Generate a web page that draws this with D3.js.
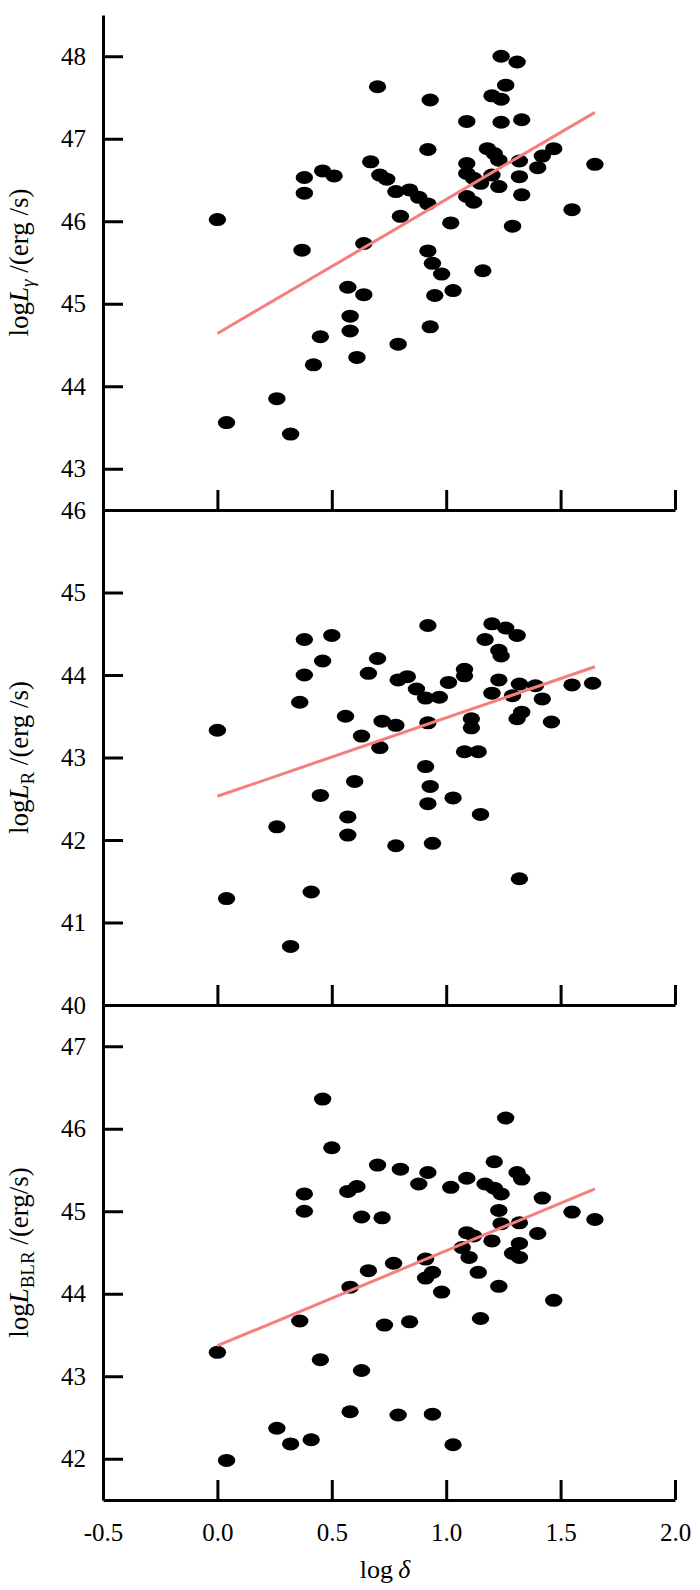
<html>
  <head>
    <meta charset="utf-8">
    <title>log delta vs luminosities</title>
    <style>
      body { margin: 0; background: white; }
      text { font-family: "Liberation Serif", "Times New Roman", serif; fill: black; }
    </style>
  </head>
  <body>
    <script type="text/javascript" src="https://d3js.org/d3.v7.min.js"></script>
    <script type="text/javascript">

    // x axis: log delta
    var xTicks = [-0.5, 0, 0.5, 1, 1.5, 2];
    var xTickLabels = ["-0.5", "0.0", "0.5", "1.0", "1.5", "2.0"];

    // panel 1 : log L_gamma
    var gammaX = [0.00,0.04,0.38,0.38,0.46,0.51,0.37,0.45,0.42,0.26,0.32,0.70,0.93,1.24,1.31,1.26,1.20,1.24,1.09,1.24,
                  1.33,0.92,0.67,0.71,0.74,0.78,0.84,0.88,0.92,0.80,1.02,0.64,0.92,0.94,0.98,1.16,0.57,0.64,0.95,1.03,
                  0.58,0.58,0.93,0.79,0.61,1.18,1.21,1.23,1.09,1.09,1.12,1.15,1.20,1.23,1.32,1.32,1.33,1.40,1.42,1.47,
                  1.09,1.12,1.29,1.55,1.65];
    var gammaY = [46.02,43.56,46.53,46.34,46.61,46.55,45.65,44.60,44.26,43.85,43.42,47.63,47.47,48.00,47.93,47.65,47.52,47.48,47.21,47.20,
                  47.23,46.87,46.72,46.56,46.51,46.36,46.38,46.29,46.21,46.06,45.98,45.73,45.64,45.49,45.36,45.40,45.20,45.11,45.10,45.16,
                  44.85,44.67,44.72,44.51,44.35,46.88,46.82,46.74,46.70,46.58,46.52,46.46,46.56,46.42,46.73,46.54,46.32,46.65,46.79,46.88,
                  46.30,46.23,45.94,46.14,46.69];
    var gammaTicks = [43, 44, 45, 46, 47, 48];
    var gammaFit = [44.64, 47.32];

    // panel 2 : log L_R
    var radioX = [0.00,0.04,0.38,0.38,0.36,0.50,0.46,0.45,0.26,0.41,0.32,
                  0.92,0.70,0.66,0.79,0.83,0.87,0.91,0.97,1.01,1.08,1.08,1.20,1.26,1.31,1.17,1.23,1.24,1.23,1.20,1.29,
                  1.32,1.39,1.42,1.55,1.64,1.33,1.31,1.46,0.56,0.63,0.72,0.78,0.71,0.92,1.11,1.11,1.08,1.14,0.60,0.91,
                  0.93,0.92,1.03,1.15,0.57,0.57,0.78,0.94,1.32];
    var radioY = [43.33,41.29,44.43,44.00,43.67,44.48,44.17,42.54,42.16,41.37,40.71,
                  44.60,44.20,44.02,43.94,43.98,43.83,43.72,43.73,43.91,44.07,43.99,44.62,44.57,44.48,44.43,44.30,44.23,43.94,43.78,43.75,
                  43.89,43.87,43.71,43.88,43.90,43.55,43.47,43.43,43.50,43.26,43.44,43.39,43.12,43.42,43.47,43.36,43.07,43.07,42.71,42.89,
                  42.65,42.44,42.51,42.31,42.28,42.06,41.93,41.96,41.53];
    var radioTicks = [40, 41, 42, 43, 44, 45, 46];
    var radioFit = [42.53, 44.10];

    // panel 3 : log L_BLR
    var blrX = [0.46,0.50,0.38,0.38,0.36,0.00,0.45,0.26,0.32,0.41,0.04,
                1.26,1.21,0.70,0.80,0.92,0.88,1.09,1.02,0.57,0.61,1.17,1.21,1.24,1.31,1.33,1.42,1.23,0.63,0.72,1.55,
                1.65,1.24,1.32,1.09,1.12,1.40,1.20,1.32,1.29,1.32,1.07,1.10,1.14,1.23,0.91,0.94,0.91,0.77,0.66,0.58,
                0.98,0.73,0.84,1.15,1.47,0.63,0.58,0.79,0.94,1.03];
    var blrY = [46.36,45.77,45.21,45.00,43.67,43.29,43.20,42.37,42.18,42.23,41.98,
                46.13,45.60,45.56,45.51,45.47,45.33,45.40,45.29,45.24,45.30,45.33,45.28,45.21,45.47,45.39,45.16,45.01,44.93,44.92,44.99,
                44.90,44.85,44.86,44.74,44.70,44.73,44.64,44.61,44.49,44.44,44.56,44.44,44.26,44.09,44.42,44.26,44.19,44.37,44.28,44.08,
                44.02,43.62,43.66,43.70,43.92,43.07,42.57,42.53,42.54,42.17];
    var blrTicks = [42, 43, 44, 45, 46, 47];
    var blrFit = [43.37, 45.27];

    var fitX = [0, 1.65];

    var w = 700;
    var h = 1590;
    var left = 103, right = 675;
    var top0 = 15, ph = 495;

    var panels = [
      {xs: gammaX, ys: gammaY, ticks: gammaTicks, fit: gammaFit, domain: [42.5, 48.5], sub: "\u03b3", subItalic: true, unit: " /(erg /s)"},
      {xs: radioX, ys: radioY, ticks: radioTicks, fit: radioFit, domain: [40, 46], sub: "R", subItalic: false, unit: " /(erg /s)"},
      {xs: blrX, ys: blrY, ticks: blrTicks, fit: blrFit, domain: [41.5, 47.5], sub: "BLR", subItalic: false, unit: " /(erg/s)"}
    ];

    var svg = d3.select("body")
                .append("svg")
                .attr("width", w)
                .attr("height", h);

    var x = d3.scaleLinear().domain([-0.5, 2]).range([left, right]);

    panels.forEach(function(p, i) {
      var t = top0 + i * ph;
      var y = d3.scaleLinear().domain(p.domain).range([t + ph, t]);
      var last = (i == panels.length - 1);

      // points
      svg.append("g")
         .selectAll("ellipse")
         .data(d3.range(p.xs.length))
         .enter()
         .append("ellipse")
           .attr("cx", function(k) { return x(p.xs[k]); })
           .attr("cy", function(k) { return y(p.ys[k]); })
           .attr("rx", 8.7)
           .attr("ry", 6.5)
           .attr("fill", "black");

      // fitted line
      var line = d3.line()
                   .x(function(d) { return x(d[0]); })
                   .y(function(d) { return y(d[1]); });
      svg.append("path")
         .datum([[fitX[0], p.fit[0]], [fitX[1], p.fit[1]]])
         .attr("d", line)
         .attr("fill", "none")
         .attr("stroke", "#f47f7f")
         .attr("stroke-width", 3);

      // y axis, ticks pointing inward
      var ya = svg.append("g")
         .attr("transform", "translate(" + left + ",0)")
         .call(d3.axisLeft(y).tickValues(p.ticks).tickFormat(d3.format("d"))
                 .tickSizeInner(-20).tickSizeOuter(0).tickPadding(17));

      // x axis along the panel bottom, ticks pointing up
      var xa = svg.append("g")
         .attr("transform", "translate(0," + (t + ph) + ")")
         .call(d3.axisBottom(x).tickValues(xTicks)
                 .tickFormat(function(d, k) { return last ? xTickLabels[k] : ""; })
                 .tickSizeInner(-20).tickSizeOuter(0).tickPadding(23));

      [ya, xa].forEach(function(a) {
        a.attr("font-size", null).attr("font-family", null);
        a.selectAll("path, line").attr("stroke", "black").attr("stroke-width", 3);
        a.selectAll("text").style("font-size", "25px");
      });

      // y label
      var lab = svg.append("text")
         .attr("transform", "translate(28," + (t + ph / 2) + ") rotate(-90)")
         .attr("text-anchor", "middle")
         .style("font-size", "27px");
      lab.append("tspan").text("log");
      lab.append("tspan").style("font-style", "italic").text("L");
      lab.append("tspan")
         .attr("dy", 6)
         .style("font-size", "19px")
         .style("font-style", p.subItalic ? "italic" : "normal")
         .text(p.sub);
      lab.append("tspan").attr("dy", -6).text(p.unit);
    });

    // x label
    var xl = svg.append("text")
       .attr("x", 385)
       .attr("y", 1578)
       .attr("text-anchor", "middle")
       .style("font-size", "26px");
    xl.append("tspan").text("log\u2009");
    xl.append("tspan").style("font-style", "italic").text("\u03b4");

    </script>
  </body>
</html>
